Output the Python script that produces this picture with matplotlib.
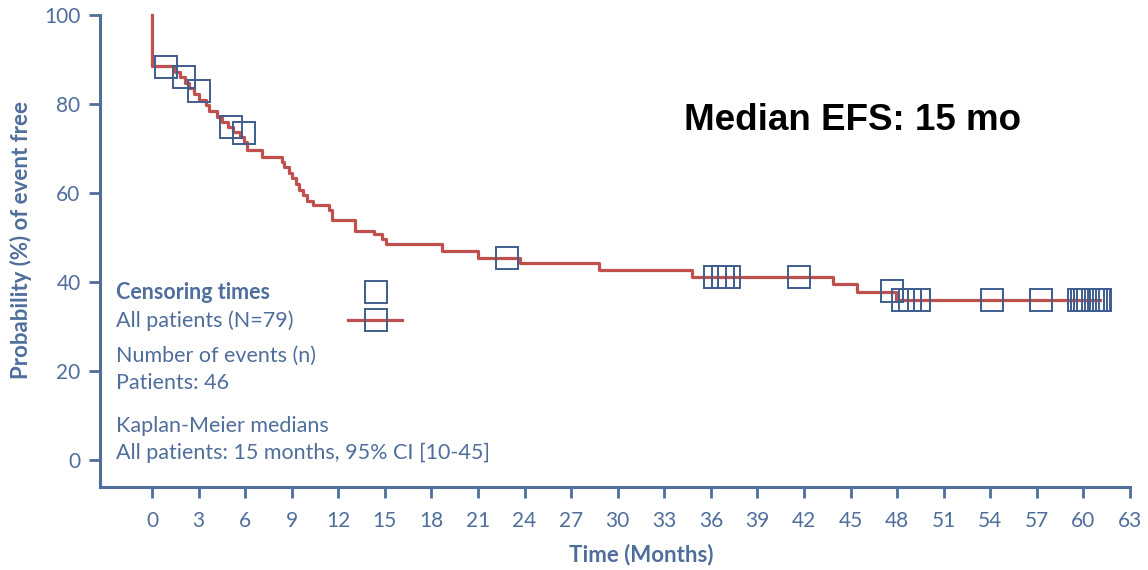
import numpy as np
import matplotlib.pyplot as plt

plt.rcParams['figure.dpi'] = 100

# Kaplan-Meier steps (time in months, survival %)
step_t = [0, 0, 1.5, 1.8, 2.1, 2.4, 2.7, 3.0, 3.5, 3.7, 4.2, 4.5, 4.9, 5.2, 5.7, 5.9,
          6.1, 7.1, 8.4, 8.5, 8.8, 9.0, 9.3, 9.5, 9.75, 10.0, 10.4, 11.4, 11.6,
          13.1, 14.3, 14.8, 15.1, 18.7, 21.0, 23.7, 28.8, 34.8, 43.9, 45.4, 47.9, 61.1]
step_p = [100, 88.6, 87.3, 86.1, 84.8, 83.6, 82.3, 81.0, 79.7, 78.4, 77.2, 76.0, 74.9,
          73.8, 72.7, 71.5, 69.6, 68.2, 67.0, 65.8, 64.5, 63.3, 62.1, 60.8, 59.6, 58.3,
          57.3, 56.1, 53.9, 51.6, 50.8, 49.8, 48.6, 47.0, 45.5, 44.3, 42.8, 41.2, 39.5,
          37.8, 36.1, 36.1]

# censoring times
cens_t = [0.9, 2.05, 3.0, 5.1, 5.9, 22.9, 36.3, 36.8, 37.2, 41.7, 47.7, 48.4, 48.8, 49.4,
          54.1, 57.3, 59.7, 59.9, 60.1, 60.3, 60.6, 60.8, 61.0, 61.1]
cens_p = [88.4, 86.0, 83.0, 74.9, 73.6, 45.5, 41.2, 41.2, 41.2, 41.2, 38.0, 36.1, 36.1, 36.1,
          36.1, 36.1, 36.1, 36.1, 36.1, 36.1, 36.1, 36.1, 36.1, 36.1]

xticks = list(range(0, 64, 3))
yticks = [0, 20, 40, 60, 80, 100]

blue = '#4F6E9B'
sq = '#3E5E8E'
red = '#C0504D'
fs = 15.5

fig = plt.figure(figsize=(11.48, 5.70))
ax = fig.add_axes([0.0871, 0.1456, 0.8972, 0.8281])

ax.step(step_t, step_p, where='post', color=red, lw=2.3, clip_on=False, zorder=3)
ax.plot(cens_t, cens_p, ls='none', marker='s', ms=15.5, mfc='none', mec=sq, mew=1.4,
        zorder=4, clip_on=False)

# legend block
lx = -2.3
ax.text(lx, 37.6, 'Censoring times', fontsize=fs, fontweight='bold', color=blue,
        family='Lato', va='center')
ax.text(lx, 31.3, 'All patients (N=79)', fontsize=fs, color=blue, family='Lato', va='center')
ax.text(lx, 23.4, 'Number of events (n)', fontsize=fs, color=blue, family='Lato', va='center')
ax.text(lx, 17.3, 'Patients: 46', fontsize=fs, color=blue, family='Lato', va='center')
ax.text(lx, 7.7, 'Kaplan-Meier medians', fontsize=fs, color=blue, family='Lato', va='center')
ax.text(lx, 1.6, 'All patients: 15 months, 95% CI [10-45]', fontsize=fs, color=blue,
        family='Lato', va='center')
ax.plot([14.4], [37.8], ls='none', marker='s', ms=15.5, mfc='none', mec=sq, mew=1.4)
ax.plot([12.6, 16.1], [31.5, 31.5], color=red, lw=2.3)
ax.plot([14.4], [31.5], ls='none', marker='s', ms=15.5, mfc='none', mec=sq, mew=1.4)

ax.text(0.567, 0.777, 'Median EFS: 15 mo', transform=ax.transAxes, fontsize=26.5,
        fontweight='bold', color='black', family='Liberation Sans', va='center')

ax.set_xlim(-3.35, 63)
ax.set_ylim(-6, 100)
ax.set_xticks(xticks)
ax.set_yticks(yticks)
for s in ['top', 'right']:
    ax.spines[s].set_visible(False)
for s in ['left', 'bottom']:
    ax.spines[s].set_color(blue)
    ax.spines[s].set_linewidth(2.2)
ax.tick_params(colors=blue, width=2, length=8, labelsize=15, pad=6)
ax.tick_params(axis='x', pad=9)
for lab in ax.get_xticklabels() + ax.get_yticklabels():
    lab.set_family('Lato')

ax.set_xlabel('Time (Months)', fontsize=16, fontweight='bold', color=blue, family='Lato')
ax.xaxis.set_label_coords((641 - 100) / 1030, -0.12)
ax.set_ylabel('Probability (%) of event free', fontsize=16, fontweight='bold', color=blue,
              family='Lato')
ax.yaxis.set_label_coords(-0.066, 0.523)

fig.savefig('out.png')
